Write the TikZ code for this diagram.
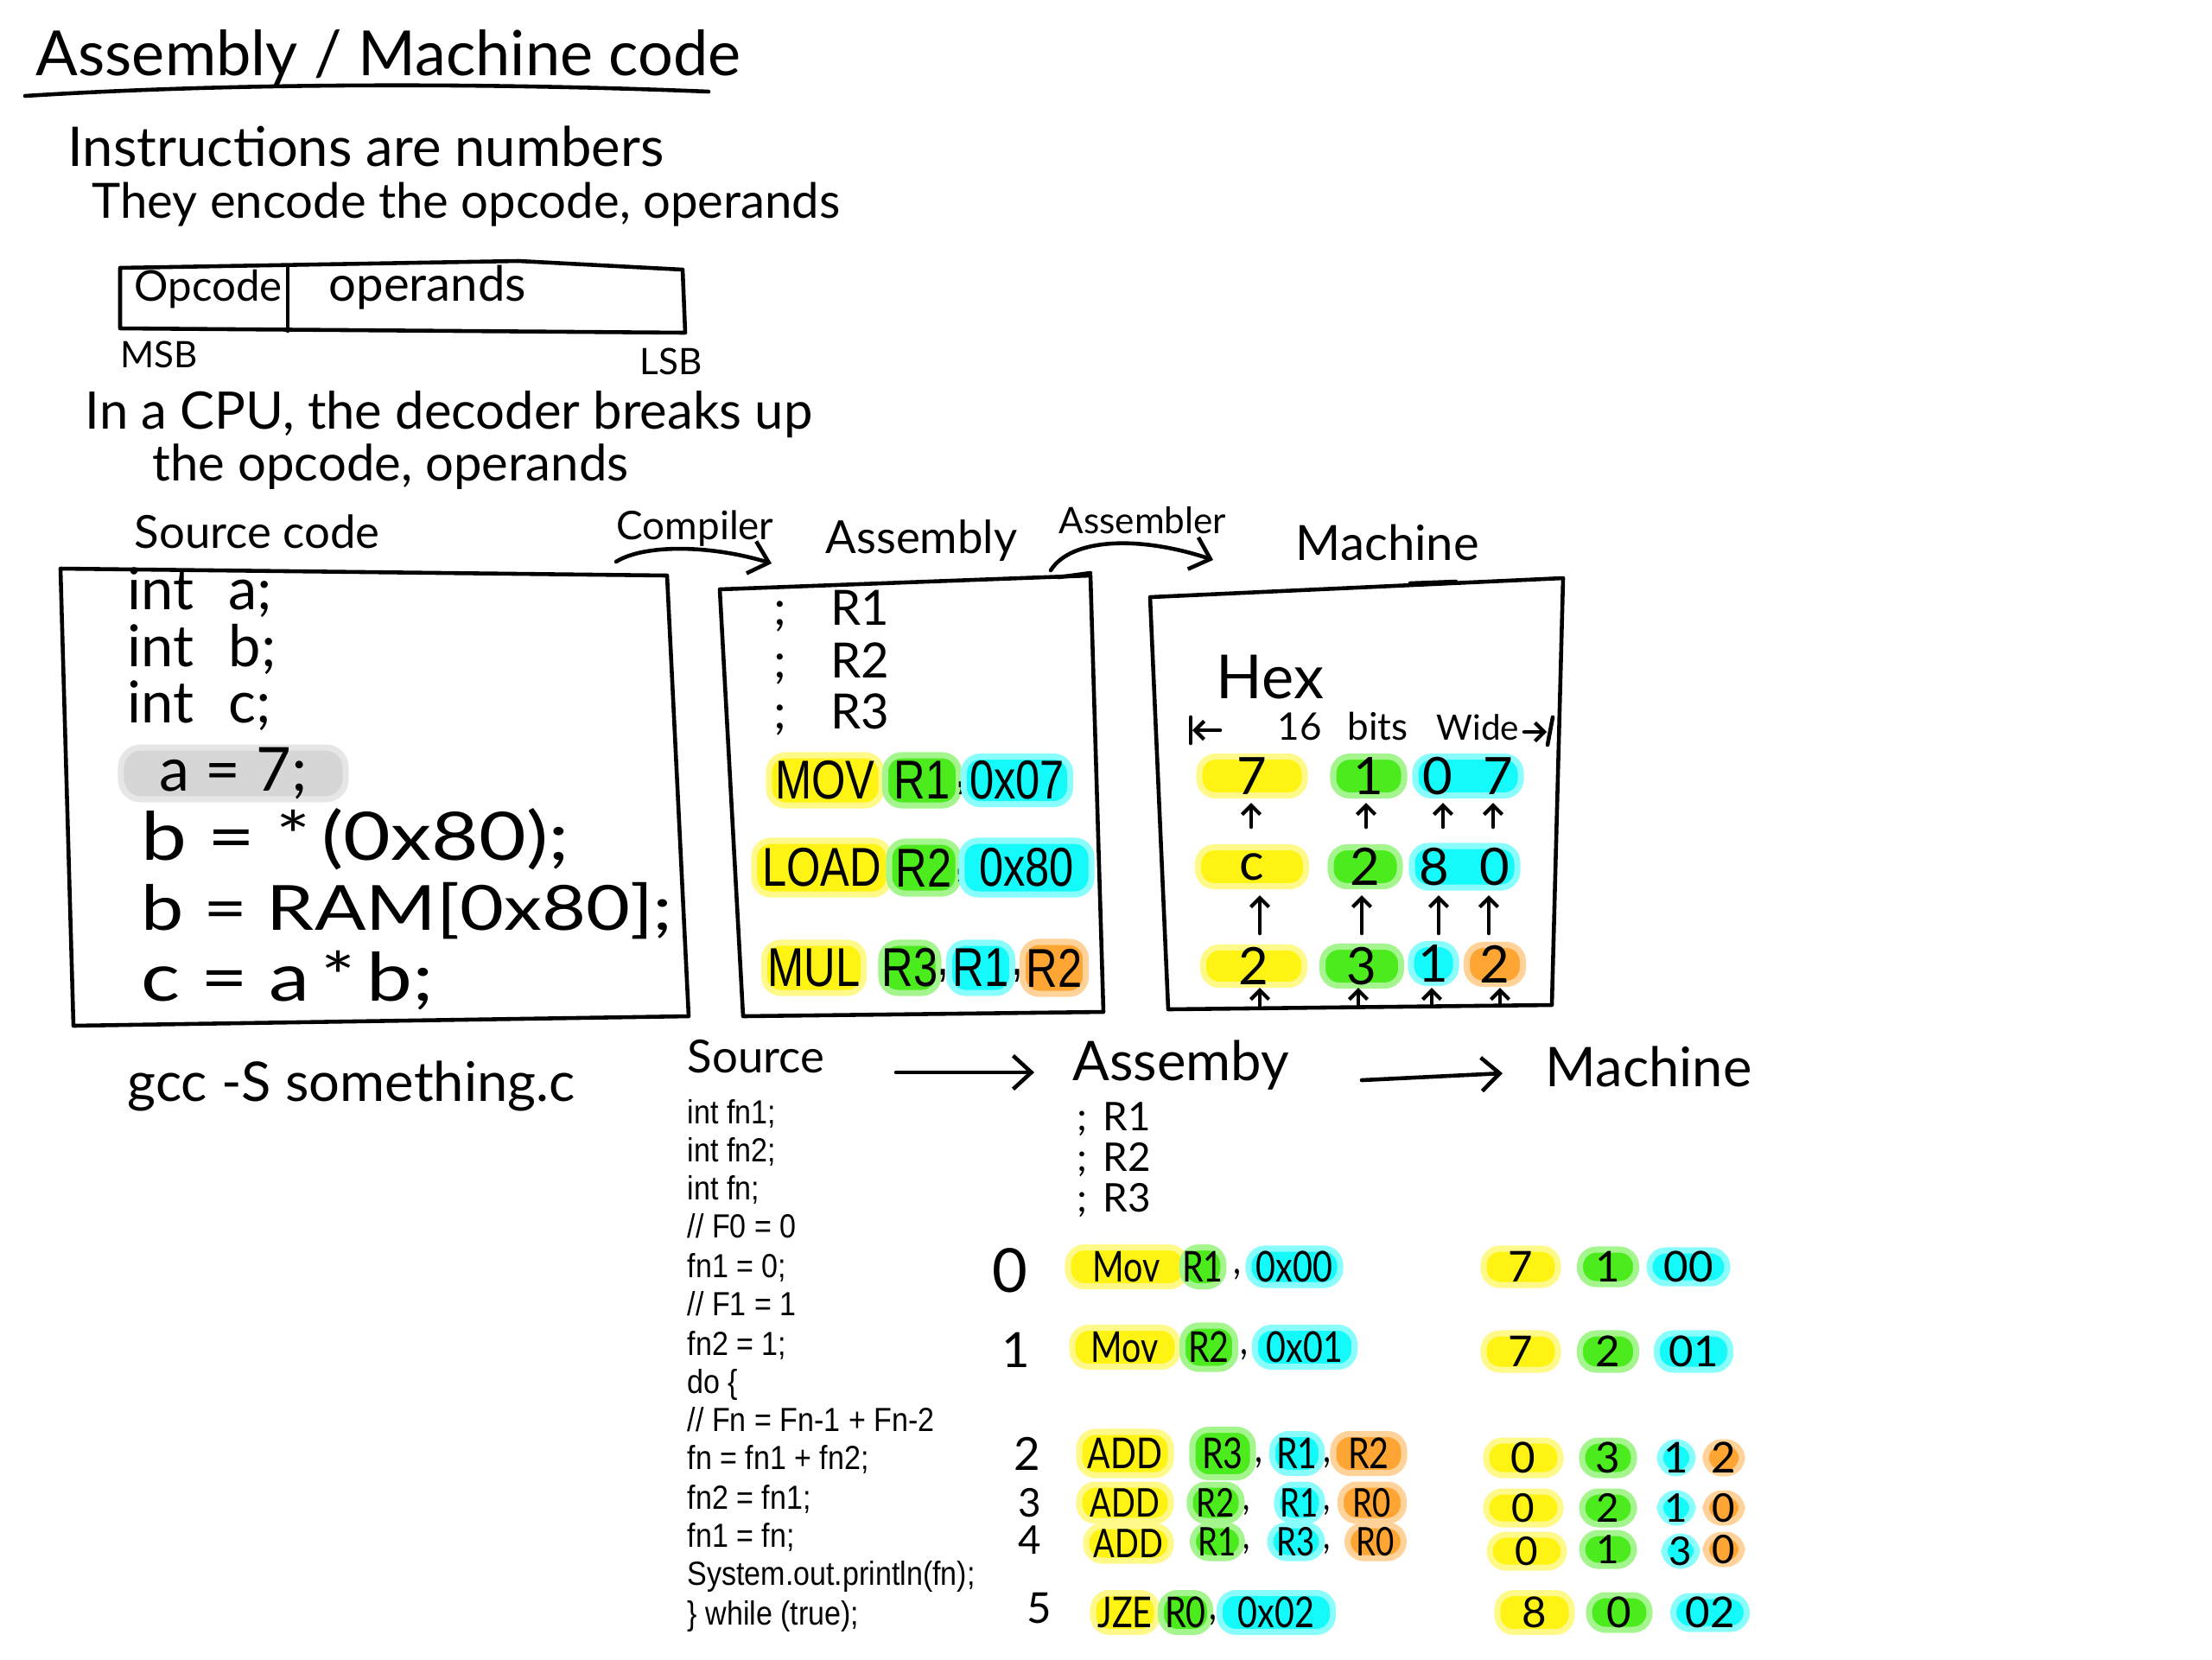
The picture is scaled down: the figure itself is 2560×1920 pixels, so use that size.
\documentclass[tikz,border=0pt]{standalone}
\usepackage{fontspec}
\setmainfont{Lato}
\newfontfamily\narrowfont{Liberation Sans}[FakeStretch=0.8]
\newfontfamily\handnarrow{Lato}[FakeStretch=0.8]
\newfontfamily\handwide{Lato}[FakeStretch=1.22]
\newfontfamily\codefont{Liberation Sans}[FakeStretch=0.88]
\usetikzlibrary{shapes.geometric,arrows.meta}
\newcommand\hsz[1]{\fontsize{#1}{#1}\selectfont}
\definecolor{hlY}{HTML}{FFF314}
\definecolor{hlG}{HTML}{4CEB1E}
\definecolor{hlC}{HTML}{14FAFA}
\definecolor{hlO}{HTML}{FFA533}
\definecolor{hlGray}{HTML}{D6D6D6}
\begin{document}
\begin{tikzpicture}[x=0.01cm,y=-0.01cm,
  ink/.style={line width=1.3pt,line cap=round,line join=round},
  hand/.style={anchor=base west,inner sep=0pt},
  blob/.style={rectangle,rounded corners=0.19cm,inner sep=0pt,text=black},
  bY/.style={blob,fill=hlY,draw=hlY!50,line width=2pt},
  bG/.style={blob,fill=hlG,draw=hlG!50,line width=2pt},
  bC/.style={blob,fill=hlC,draw=hlC!50,line width=2pt},
  bO/.style={blob,fill=hlO,draw=hlO!50,line width=2pt},
  bigtip/.style={-{Straight Barb[length=6pt,width=11pt,line width=1.3pt]}},
  smalltip/.style={-{Straight Barb[length=3pt,width=6pt,line width=1.2pt]}},
  asmU/.style={font=\narrowfont\hsz{18}},
  asmL/.style={font=\handnarrow\hsz{14}},
  asmLs/.style={font=\handnarrow\hsz{13}},
  hexU/.style={font=\hsz{17}},
  hexL/.style={font=\hsz{14}},
  hexLs/.style={font=\hsz{13}},
  codeL/.style={hand,font=\codefont\hsz{11}},
]
\useasboundingbox (0,0) rectangle (2560,1920);
\fill[white] (0,0) rectangle (2560,1920);

% ---------- title and intro ----------
\node[hand,font=\hsz{20.5}] (title) at (41,87) {Assembly / Machine code};
\draw[ink] (29,111) .. controls (300,94) and (600,97) .. (820,106);
\node[hand,font=\hsz{18}] (intro1) at (78,192) {Instructions are numbers};
\node[hand,font=\hsz{16}] (intro2) at (106,252) {They encode the opcode, operands};

% instruction word box
\draw[ink] (139,310) -- (600,302) -- (790,312) -- (793,385) -- (139,380) -- cycle;
\draw[ink] (333,309) -- (333,383);
\node[hand,font=\hsz{14}] (opc) at (155,348) {Opcode};
\node[hand,font=\hsz{16}] (opr) at (380,348) {operands};
\node[hand,font=\hsz{12}] (msb) at (139,425) {MSB};
\node[hand,font=\hsz{12}] (lsb) at (740,433) {LSB};

\node[hand,font=\hsz{17}] (cpu1) at (98,496) {In a CPU, the decoder breaks up};
\node[hand,font=\hsz{16.5}] (cpu2) at (176,556) {the opcode, operands};

% ---------- upper pipeline ----------
\node[hand,font=\hsz{15}] (srchead) at (155,634) {Source code};
\node[hand,font=\hsz{13}] (comp) at (713,624) {Compiler};
\node[hand,font=\hsz{15}] (asmhead) at (955,640) {Assembly};
\node[hand,font=\hsz{12}] (assm) at (1225,617) {Assembler};
\node[hand,font=\hsz{16}] (machead) at (1499,648) {Machine};

\coordinate (cmpS) at (713,650);
\coordinate (cmpE) at (893,652);
\draw[ink,bigtip] (cmpS) .. controls (745,630) and (820,630) .. (cmpE);
\coordinate (asmS) at (1216,660);
\coordinate (asmE) at (1404,648);
\draw[ink,bigtip] (asmS) .. controls (1240,622) and (1320,620) .. (asmE);

% source code box
\draw[ink] (70,658) -- (772,666) -- (797,1176) -- (85,1187) -- cycle;
\node[hand,font=\hsz{19}] (ca) at (147,705) {int\hspace{0.6em}a;};
\node[hand,font=\hsz{19}] (cb) at (147,771) {int\hspace{0.6em}b;};
\node[hand,font=\hsz{19}] (cc) at (147,836) {int\hspace{0.6em}c;};
\node[blob,fill=hlGray,draw=hlGray!60,line width=2pt,minimum width=2.6cm,minimum height=0.48cm,
      rounded corners=0.23cm,font=\hsz{20}] (cd) at (270,895) {a = 7;};
\node[hand,font=\handwide\hsz{22}] (ce) at (163,995) {b = *\,(0x80);};
\node[hand,font=\handwide\hsz{20.5}] (cf) at (163,1076) {b = RAM[0x80];};
\node[hand,font=\handwide\hsz{22}] (cg) at (163,1158) {c = a\,*\,b;};

\node[hand,font=\hsz{18}] (gcc) at (147,1274) {gcc -S something.c};

% assembly box
\draw[ink] (833,682) -- (1262,666) -- (1277,1171) -- (860,1176) -- cycle;
\draw[ink] (1225,668) -- (1262,663);
\node[hand,font=\hsz{16}] (ar1) at (895,723) {;\hspace{0.9em}R1};
\node[hand,font=\hsz{16}] (ar2) at (895,784) {;\hspace{0.9em}R2};
\node[hand,font=\hsz{16}] (ar3) at (895,843) {;\hspace{0.9em}R3};

\node[bY,asmU,minimum width=1.3cm,minimum height=0.58cm] (movA) at (955,903) {MOV};
\node[bG,asmU,minimum width=0.85cm,minimum height=0.58cm] (movB) at (1067,903) {R1};
\node[asmU,inner sep=0pt] (movk) at (1113,912) {,};
\node[bC,asmU,minimum width=1.23cm,minimum height=0.55cm] (movC) at (1177,903) {0x07};

\node[bY,asmU,minimum width=1.56cm,minimum height=0.62cm] (ldA) at (951,1004) {LOAD};
\node[bG,asmU,minimum width=0.8cm,minimum height=0.6cm] (ldB) at (1069,1004) {R2};
\node[asmU,inner sep=0pt] (ldk) at (1112,1013) {,};
\node[bC,asmU,minimum width=1.5cm,minimum height=0.62cm] (ldC) at (1188,1004) {0x80};

\node[bY,asmU,minimum width=1.15cm,minimum height=0.58cm] (mulA) at (942,1120) {MUL};
\node[bG,asmU,minimum width=0.66cm,minimum height=0.58cm] (mulB) at (1053,1120) {R3};
\node[asmU,inner sep=0pt] (mulk1) at (1092,1129) {,};
\node[bC,asmU,minimum width=0.73cm,minimum height=0.58cm] (mulC) at (1135,1120) {R1};
\node[asmU,inner sep=0pt] (mulk2) at (1178,1129) {,};
\node[bO,asmU,minimum width=0.73cm,minimum height=0.6cm] (mulD) at (1220,1120) {R2};

% machine box
\draw[ink] (1331,691) -- (1809,669) -- (1796,1163) -- (1352,1168) -- cycle;
\draw[ink] (1632,675) -- (1685,673);
\node[hand,font=\hsz{20}] (hex) at (1407,808) {Hex};
\node[hand,font=\hsz{12.5}] (w16) at (1478,856) {16};
\node[hand,font=\hsz{12.5}] (wbits) at (1559,856) {bits};
\node[hand,font=\hsz{11.5}] (wwide) at (1662,856) {Wide};
\coordinate (wLbar1) at (1378,830); \coordinate (wLbar2) at (1378,860);
\coordinate (wLs) at (1412,845); \coordinate (wLe) at (1380,845);
\draw[ink] (wLbar1) -- (wLbar2);
\draw[ink,smalltip] (wLs) -- (wLe);
\coordinate (wRbar1) at (1797,830); \coordinate (wRbar2) at (1791,862);
\coordinate (wRs) at (1764,847); \coordinate (wRe) at (1790,847);
\draw[ink] (wRbar1) -- (wRbar2);
\draw[ink,smalltip] (wRs) -- (wRe);

\node[bY,hexU,minimum width=1.22cm,minimum height=0.45cm] (h1a) at (1449,898) {7};
\node[bG,hexU,minimum width=0.82cm,minimum height=0.45cm] (h1b) at (1584,898) {1};
\node[bC,hexU,minimum width=1.22cm,minimum height=0.45cm] (h1c) at (1699,898) {0\hspace{0.6em}7};

\node[bY,hexU,minimum width=1.25cm,minimum height=0.45cm] (h2a) at (1449,1003) {c};
\node[bG,hexU,minimum width=0.8cm,minimum height=0.45cm] (h2b) at (1580,1003) {2};
\node[bC,hexU,minimum width=1.22cm,minimum height=0.48cm] (h2c) at (1695,1003) {8\hspace{0.6em}0};

\node[bY,hexU,minimum width=1.17cm,minimum height=0.42cm] (h3a) at (1451,1118) {2};
\node[bG,hexU,minimum width=0.91cm,minimum height=0.45cm] (h3b) at (1576,1118) {3};
\node[bC,hexU,minimum width=0.52cm,minimum height=0.45cm] (h3c) at (1659,1115) {1};
\node[bO,hexU,minimum width=0.65cm,minimum height=0.45cm] (h3d) at (1730,1116) {2};

\foreach \i/\x in {a/1448,b/1581,c/1670,d/1728}{
  \coordinate (upA\i s) at (\x,957); \coordinate (upA\i e) at (\x,929);
  \draw[ink,smalltip] (upA\i s) -- (upA\i e);
}
\foreach \i/\x in {a/1458,b/1576,c/1665,d/1723}{
  \coordinate (upB\i s) at (\x,1080); \coordinate (upB\i e) at (\x,1036);
  \draw[ink,smalltip] (upB\i s) -- (upB\i e);
}
\foreach \i/\x in {a/1458,b/1572,c/1657,d/1736}{
  \coordinate (upC\i s) at (\x,1164); \coordinate (upC\i e) at (\x,1143);
  \draw[ink,smalltip] (upC\i s) -- (upC\i e);
}

% ---------- lower pipeline ----------
\node[hand,font=\hsz{15}] (src2) at (795,1241) {Source};
\node[hand,font=\hsz{18}] (asm2) at (1241,1250) {Assemby};
\node[hand,font=\hsz{18}] (mac2) at (1788,1257) {Machine};
\coordinate (l1s) at (1037,1241); \coordinate (l1e) at (1197,1241);
\draw[ink,bigtip] (l1s) -- (l1e);
\coordinate (l2s) at (1576,1250); \coordinate (l2e) at (1739,1242);
\draw[ink,bigtip] (l2s) -- (l2e);

\node[codeL] (s1) at (795,1300) {int fn1;};
\node[codeL] (s2) at (795,1344) {int fn2;};
\node[codeL] (s3) at (795,1388) {int fn;};
\node[codeL] (s4) at (795,1432) {// F0 = 0};
\node[codeL] (s5) at (795,1478) {fn1 = 0;};
\node[codeL] (s6) at (795,1522) {// F1 = 1};
\node[codeL] (s7) at (795,1568) {fn2 = 1;};
\node[codeL] (s8) at (795,1612) {do \{};
\node[codeL] (s9) at (795,1656) {// Fn = Fn-1 + Fn-2};
\node[codeL] (s10) at (795,1700) {fn = fn1 + fn2;};
\node[codeL] (s11) at (795,1746) {fn2 = fn1;};
\node[codeL] (s12) at (795,1790) {fn1 = fn;};
\node[codeL] (s13) at (795,1834) {System.out.println(fn);};
\node[codeL] (s14) at (795,1880) {\} while (true);};

\node[hand,font=\hsz{13}] (lc1) at (1246,1308) {;\hspace{0.4em}R1};
\node[hand,font=\hsz{13}] (lc2) at (1246,1355) {;\hspace{0.4em}R2};
\node[hand,font=\hsz{13}] (lc3) at (1246,1402) {;\hspace{0.4em}R3};

\node[font=\hsz{20}] (n0) at (1169,1470) {0};
\node[font=\hsz{16}] (n1) at (1176,1562) {1};
\node[font=\hsz{15}] (n2) at (1189,1682) {2};
\node[font=\hsz{13}] (n3) at (1192,1739) {3};
\node[font=\hsz{13}] (n4) at (1192,1782) {4};
\node[font=\hsz{14}] (n5) at (1203,1861) {5};

% row 0
\node[bY,asmL,minimum width=1.36cm,minimum height=0.45cm] (r0a) at (1304,1466) {Mov};
\node[bG,asmL,minimum width=0.45cm,minimum height=0.45cm] (r0b) at (1392,1466) {R1};
\node[asmL,inner sep=0pt] (r0k) at (1432,1475) {,};
\node[bC,asmL,minimum width=1.06cm,minimum height=0.42cm] (r0c) at (1498,1466) {0x00};
% row 1
\node[bY,asmL,minimum width=1.22cm,minimum height=0.45cm] (r1a) at (1302,1559) {Mov};
\node[bG,asmL,minimum width=0.61cm,minimum height=0.5cm] (r1b) at (1399,1559) {R2};
\node[asmL,inner sep=0pt] (r1k) at (1440,1568) {,};
\node[bC,asmL,minimum width=1.15cm,minimum height=0.45cm] (r1c) at (1510,1559) {0x01};
% row 2
\node[bY,asmL,minimum width=1.06cm,minimum height=0.5cm] (r2a) at (1302,1682) {ADD};
\node[bG,asmL,minimum width=0.7cm,minimum height=0.55cm] (r2b) at (1415,1682) {R3};
\node[asmL,inner sep=0pt] (r2k1) at (1457,1693) {,};
\node[bC,asmL,minimum width=0.57cm,minimum height=0.45cm] (r2c) at (1501,1682) {R1};
\node[asmL,inner sep=0pt] (r2k2) at (1536,1693) {,};
\node[bO,asmL,minimum width=0.82cm,minimum height=0.45cm] (r2d) at (1584,1682) {R2};
% row 3
\node[bY,asmLs,minimum width=1.06cm,minimum height=0.42cm] (r3a) at (1302,1739) {ADD};
\node[bG,asmLs,minimum width=0.6cm,minimum height=0.42cm] (r3b) at (1407,1739) {R2};
\node[asmLs,inner sep=0pt] (r3k1) at (1443,1748) {,};
\node[bC,asmLs,minimum width=0.52cm,minimum height=0.42cm] (r3c) at (1504,1739) {R1};
\node[asmLs,inner sep=0pt] (r3k2) at (1536,1748) {,};
\node[bO,asmLs,minimum width=0.73cm,minimum height=0.42cm] (r3d) at (1588,1739) {R0};
% row 4
\node[bY,asmLs,minimum width=0.98cm,minimum height=0.4cm] (r4a) at (1306,1786) {ADD};
\node[bG,asmLs,minimum width=0.57cm,minimum height=0.38cm] (r4b) at (1409,1784) {R1};
\node[asmLs,inner sep=0pt] (r4k1) at (1443,1793) {,};
\node[bC,asmLs,minimum width=0.6cm,minimum height=0.38cm] (r4c) at (1500,1784) {R3};
\node[asmLs,inner sep=0pt] (r4k2) at (1536,1793) {,};
\node[bO,asmLs,minimum width=0.65cm,minimum height=0.38cm] (r4d) at (1592,1784) {R0};
% row 5
\node[bY,asmL,minimum width=0.74cm,minimum height=0.45cm] (r5a) at (1302,1866) {JZE};
\node[bG,asmL,minimum width=0.57cm,minimum height=0.45cm] (r5b) at (1372,1866) {R0};
\node[asmL,inner sep=0pt] (r5k) at (1404,1875) {,};
\node[bC,asmL,minimum width=1.31cm,minimum height=0.45cm] (r5c) at (1477,1866) {0x02};

% lower machine code
\node[bY,hexL,minimum width=0.86cm,minimum height=0.42cm] (m0a) at (1760,1466) {7};
\node[bG,hexL,minimum width=0.65cm,minimum height=0.4cm] (m0b) at (1861,1466) {1};
\node[bC,hexL,minimum width=0.9cm,minimum height=0.38cm] (m0c) at (1954,1466) {00};

\node[bY,hexL,minimum width=0.86cm,minimum height=0.42cm] (m1a) at (1760,1564) {7};
\node[bG,hexL,minimum width=0.65cm,minimum height=0.42cm] (m1b) at (1861,1564) {2};
\node[bC,hexL,minimum width=0.85cm,minimum height=0.42cm] (m1c) at (1960,1564) {01};

\node[bY,hexL,minimum width=0.86cm,minimum height=0.4cm] (m2a) at (1763,1687) {0};
\node[bG,hexL,minimum width=0.6cm,minimum height=0.4cm] (m2b) at (1861,1687) {3};
\node[bC,hexL,minimum width=0.38cm,minimum height=0.36cm] (m2c) at (1940,1687) {1};
\node[bO,hexL,minimum width=0.42cm,minimum height=0.36cm] (m2d) at (1995,1687) {2};

\node[bY,hexLs,minimum width=0.86cm,minimum height=0.38cm] (m3a) at (1763,1745) {0};
\node[bG,hexLs,minimum width=0.6cm,minimum height=0.38cm] (m3b) at (1861,1745) {2};
\node[bC,hexLs,minimum width=0.38cm,minimum height=0.34cm] (m3c) at (1940,1745) {1};
\node[bO,hexLs,minimum width=0.42cm,minimum height=0.34cm] (m3d) at (1995,1745) {0};

\node[bY,hexLs,minimum width=0.86cm,minimum height=0.38cm] (m4a) at (1767,1795) {0};
\node[bG,hexLs,minimum width=0.6cm,minimum height=0.38cm] (m4b) at (1861,1793) {1};
\node[bC,hexLs,minimum width=0.38cm,minimum height=0.34cm] (m4c) at (1945,1795) {3};
\node[bO,hexLs,minimum width=0.42cm,minimum height=0.34cm] (m4d) at (1995,1793) {0};

\node[bY,hexL,minimum width=0.86cm,minimum height=0.45cm] (m5a) at (1776,1866) {8};
\node[bG,hexL,minimum width=0.7cm,minimum height=0.4cm] (m5b) at (1874,1866) {0};
\node[bC,hexL,minimum width=0.85cm,minimum height=0.38cm] (m5c) at (1979,1866) {02};
\end{tikzpicture}
\end{document}
